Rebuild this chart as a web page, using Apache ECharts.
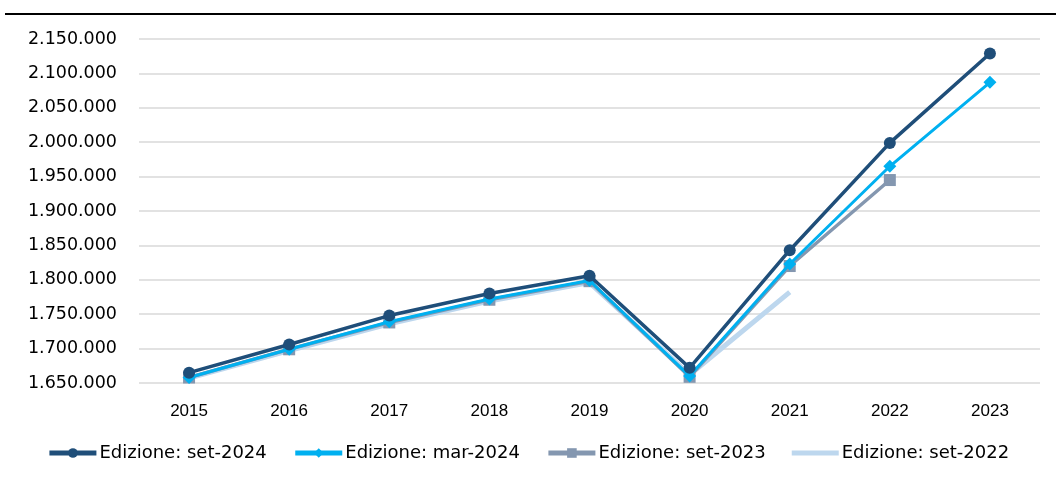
<!DOCTYPE html>
<html>
<head>
<meta charset="utf-8">
<script src="https://cdn.jsdelivr.net/npm/echarts@6/dist/echarts.min.js"></script>
<style>
  html, body { margin: 0; padding: 0; background: #fff; }
  #chart { width: 1056px; height: 480px; }
</style>
</head>
<body>
<div id="chart"></div>
<script>
const years = ['2015', '2016', '2017', '2018', '2019', '2020', '2021', '2022', '2023'];
const set2024 = [1665000, 1706000, 1748000, 1780000, 1806000, 1672000, 1843000, 1999000, 2129000];
const mar2024 = [1658000, 1699000, 1739000, 1772000, 1799000, 1660000, 1823000, 1965000, 2087000];
const set2023 = [1658000, 1699000, 1738000, 1771000, 1798000, 1659000, 1820000, 1945000, null];
const set2022 = [1657000, 1697000, 1736000, 1769000, 1796000, 1662000, 1782000, null, null];

const names = ['Edizione: set-2024', 'Edizione: mar-2024', 'Edizione: set-2023', 'Edizione: set-2022'];
const colors = ['#1F4E79', '#00B0F0', '#8497B0', '#BDD7EE'];

function fmt(v) {
  return String(v).replace(/\B(?=(\d{3})+(?!\d))/g, '.');
}

function line(name, data, color, symbol, size, width, z) {
  return {
    name: name,
    type: 'line',
    data: data,
    symbol: symbol,
    symbolSize: size,
    showSymbol: symbol !== 'none',
    z: z,
    lineStyle: { color: color, width: width },
    itemStyle: { color: color },
    animation: false
  };
}

const chart = echarts.init(document.getElementById('chart'));
chart.setOption({
  color: colors,
  grid: { left: 139, right: 16, top: 39, bottom: 97 },
  graphic: [{
    type: 'line',
    shape: { x1: 5, y1: 14, x2: 1056, y2: 14 },
    style: { stroke: '#000', lineWidth: 2 }
  }],
  legend: {
    bottom: 13,
    left: 'center',
    itemWidth: 47,
    itemHeight: 12,
    itemGap: 26,
    lineStyle: { width: 5 },
    textStyle: { fontFamily: 'DejaVu Sans, sans-serif', fontSize: 18, color: '#000', padding: [0, 0, 0, -2] },
    data: [
      { name: names[0] },
      { name: names[1] },
      { name: names[2] },
      { name: names[3], icon: 'path://M0,0 L47,0 L47,5 L0,5 Z' }
    ]
  },
  xAxis: {
    type: 'category',
    data: years,
    boundaryGap: true,
    axisLine: { show: false },
    axisTick: { show: false },
    axisLabel: { margin: 20, fontFamily: 'Liberation Sans, sans-serif', fontSize: 17, color: '#000' }
  },
  yAxis: {
    type: 'value',
    min: 1650000,
    max: 2150000,
    interval: 50000,
    axisLine: { show: false },
    axisTick: { show: false },
    splitLine: { lineStyle: { color: '#D9D9D9', width: 1.5 } },
    axisLabel: { margin: 22, formatter: fmt, fontFamily: 'DejaVu Sans, sans-serif', fontSize: 17.5, color: '#000' }
  },
  series: [
    line(names[3], set2022, colors[3], 'none', 0, 5, 1),
    line(names[2], set2023, colors[2], 'rect', 12, 3.5, 2),
    line(names[1], mar2024, colors[1], 'diamond', 13, 3, 3),
    line(names[0], set2024, colors[0], 'circle', 12, 3.5, 4)
  ]
});
</script>
</body>
</html>
